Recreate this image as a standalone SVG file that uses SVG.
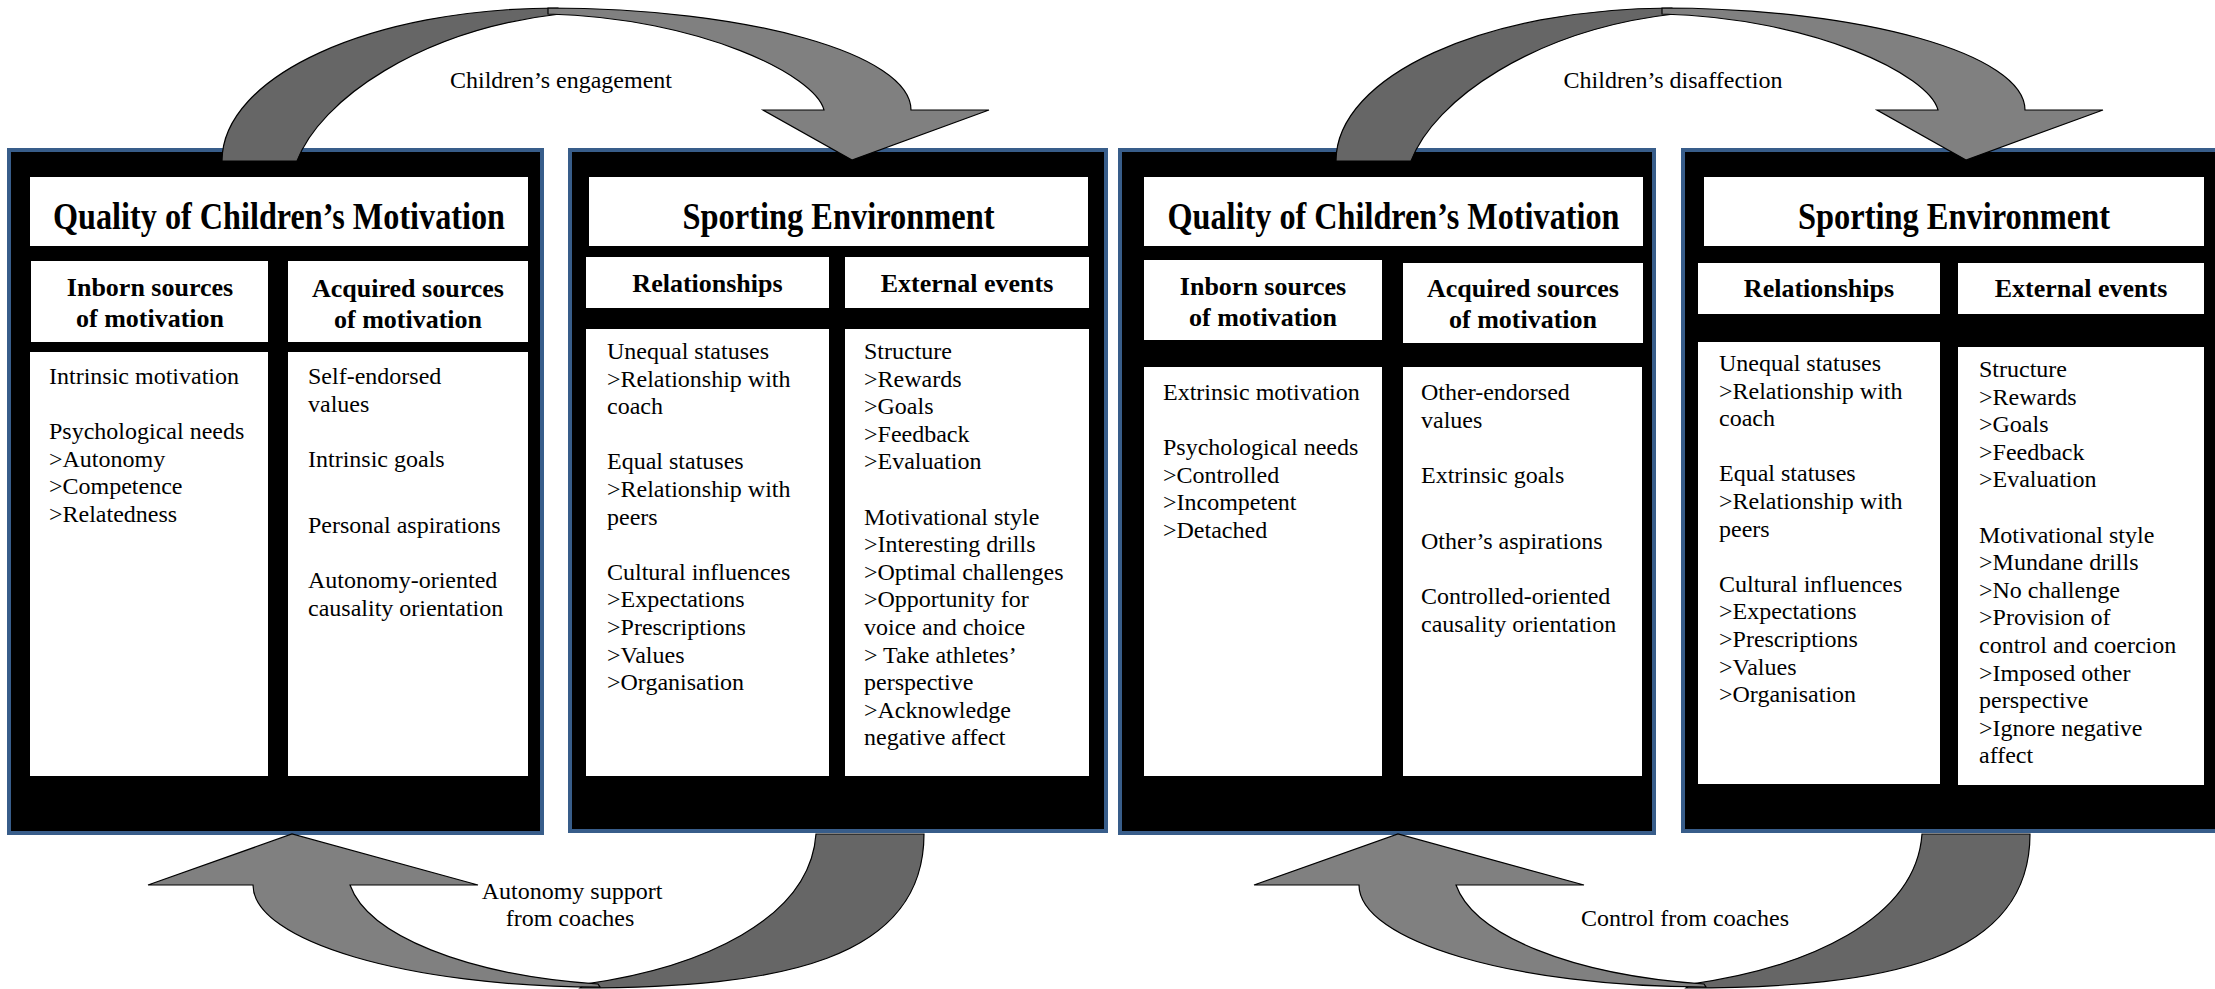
<svg xmlns="http://www.w3.org/2000/svg" width="2215" height="989" viewBox="0 0 2215 989">
<defs>
<style>
.box{fill:#000;stroke:#385D8A;stroke-width:4}
.wb{fill:#fff}
text{font-family:'Liberation Serif','Times New Roman',serif;fill:#000}
.title{font-weight:bold;font-size:38px;text-anchor:middle}
.sub{font-weight:bold;font-size:26px;text-anchor:middle}
.body{font-size:24px}
.lbl{font-size:24px;text-anchor:middle}
.dark{fill:#666666;stroke:#000;stroke-width:1.2}
.light{fill:#808080;stroke:#000;stroke-width:1.2}
</style>
<g id="topArrow">
<path class="dark" d="M222,161 C222,76 371,8 558,8 L560,14 C420,30 320,100 297,161 Z"/>
<path class="light" d="M548,8 C748,8 911,54 911,110 L989,110 L852,160 L763,110 L824,110 C815,75 700,18 548,14 Z"/>
</g>
<g id="bottomArrow">
<path class="dark" d="M816,834 L924,834 C924,960 780,988 580,988 L585,984 C700,968 810,920 816,834 Z"/>
<path class="light" d="M253,885 L148,885 L292,834 L478,885 L350,885 C368,935 465,975 598,984 L600,987 C408,987 253,941 253,885 Z"/>
</g>
</defs>

<g id="node-motivation-positive">
<rect class="box" x="9" y="150" width="533" height="683"/>
<rect class="wb" x="30" y="177" width="498" height="69"/>
<text class="title" x="279" y="229" textLength="452" lengthAdjust="spacingAndGlyphs">Quality of Children’s Motivation</text>
<rect class="wb" x="31" y="261" width="237" height="81"/>
<text class="sub" x="150" y="296">Inborn sources</text>
<text class="sub" x="150" y="327">of motivation</text>
<rect class="wb" x="288" y="261" width="240" height="81"/>
<text class="sub" x="408" y="297">Acquired sources</text>
<text class="sub" x="408" y="328">of motivation</text>
<rect class="wb" x="30" y="352" width="238" height="424"/>
<text class="body" x="49" y="384">Intrinsic motivation</text>
<text class="body" x="49" y="439">Psychological needs</text>
<text class="body" x="49" y="466.6">&gt;Autonomy</text>
<text class="body" x="49" y="494.2">&gt;Competence</text>
<text class="body" x="49" y="521.8">&gt;Relatedness</text>
<rect class="wb" x="288" y="352" width="240" height="424"/>
<text class="body" x="308" y="384">Self-endorsed</text>
<text class="body" x="308" y="411.6">values</text>
<text class="body" x="308" y="466.8">Intrinsic goals</text>
<text class="body" x="308" y="533">Personal aspirations</text>
<text class="body" x="308" y="588">Autonomy-oriented</text>
<text class="body" x="308" y="616">causality orientation</text>
</g>

<g id="node-environment-positive">
<rect class="box" x="570" y="150" width="536" height="681"/>
<rect class="wb" x="589" y="177" width="499" height="69"/>
<text class="title" x="838.5" y="229" textLength="312" lengthAdjust="spacingAndGlyphs">Sporting Environment</text>
<rect class="wb" x="586" y="257" width="243" height="51"/>
<text class="sub" x="707.5" y="292">Relationships</text>
<rect class="wb" x="845" y="257" width="244" height="51"/>
<text class="sub" x="967" y="292">External events</text>
<rect class="wb" x="586" y="329" width="243" height="447"/>
<text class="body" x="607" y="359">Unequal statuses</text>
<text class="body" x="607" y="386.6">&gt;Relationship with</text>
<text class="body" x="607" y="414.2">coach</text>
<text class="body" x="607" y="469.4">Equal statuses</text>
<text class="body" x="607" y="497">&gt;Relationship with</text>
<text class="body" x="607" y="524.6">peers</text>
<text class="body" x="607" y="579.8">Cultural influences</text>
<text class="body" x="607" y="607.4">&gt;Expectations</text>
<text class="body" x="607" y="635">&gt;Prescriptions</text>
<text class="body" x="607" y="662.6">&gt;Values</text>
<text class="body" x="607" y="690.2">&gt;Organisation</text>
<rect class="wb" x="845" y="329" width="244" height="447"/>
<text class="body" x="864" y="359">Structure</text>
<text class="body" x="864" y="386.6">&gt;Rewards</text>
<text class="body" x="864" y="414.2">&gt;Goals</text>
<text class="body" x="864" y="441.8">&gt;Feedback</text>
<text class="body" x="864" y="469.4">&gt;Evaluation</text>
<text class="body" x="864" y="524.6">Motivational style</text>
<text class="body" x="864" y="552.2">&gt;Interesting drills</text>
<text class="body" x="864" y="579.8">&gt;Optimal challenges</text>
<text class="body" x="864" y="607.4">&gt;Opportunity for</text>
<text class="body" x="864" y="635">voice and choice</text>
<text class="body" x="864" y="662.6">&gt; Take athletes’</text>
<text class="body" x="864" y="690.2">perspective</text>
<text class="body" x="864" y="717.8">&gt;Acknowledge</text>
<text class="body" x="864" y="745.4">negative affect</text>
</g>

<g id="node-motivation-negative">
<rect class="box" x="1120" y="150" width="534" height="683"/>
<rect class="wb" x="1144" y="177" width="499" height="69"/>
<text class="title" x="1393.5" y="229" textLength="452" lengthAdjust="spacingAndGlyphs">Quality of Children’s Motivation</text>
<rect class="wb" x="1144" y="260" width="238" height="80"/>
<text class="sub" x="1263" y="295">Inborn sources</text>
<text class="sub" x="1263" y="326">of motivation</text>
<rect class="wb" x="1403" y="263" width="240" height="80"/>
<text class="sub" x="1523" y="297">Acquired sources</text>
<text class="sub" x="1523" y="328">of motivation</text>
<rect class="wb" x="1144" y="367" width="238" height="409"/>
<text class="body" x="1163" y="400">Extrinsic motivation</text>
<text class="body" x="1163" y="455.2">Psychological needs</text>
<text class="body" x="1163" y="482.8">&gt;Controlled</text>
<text class="body" x="1163" y="510.4">&gt;Incompetent</text>
<text class="body" x="1163" y="538">&gt;Detached</text>
<rect class="wb" x="1403" y="367" width="239" height="409"/>
<text class="body" x="1421" y="400">Other-endorsed</text>
<text class="body" x="1421" y="427.6">values</text>
<text class="body" x="1421" y="482.8">Extrinsic goals</text>
<text class="body" x="1421" y="549">Other’s aspirations</text>
<text class="body" x="1421" y="604">Controlled-oriented</text>
<text class="body" x="1421" y="632">causality orientation</text>
</g>

<g id="node-environment-negative">
<rect class="box" x="1683" y="150" width="540" height="681"/>
<rect class="wb" x="1704" y="177" width="500" height="69"/>
<text class="title" x="1954" y="229" textLength="312" lengthAdjust="spacingAndGlyphs">Sporting Environment</text>
<rect class="wb" x="1698" y="263" width="242" height="51"/>
<text class="sub" x="1819" y="297">Relationships</text>
<rect class="wb" x="1958" y="263" width="246" height="51"/>
<text class="sub" x="2081" y="297">External events</text>
<rect class="wb" x="1698" y="342" width="242" height="442"/>
<text class="body" x="1719" y="371">Unequal statuses</text>
<text class="body" x="1719" y="398.6">&gt;Relationship with</text>
<text class="body" x="1719" y="426.2">coach</text>
<text class="body" x="1719" y="481.4">Equal statuses</text>
<text class="body" x="1719" y="509">&gt;Relationship with</text>
<text class="body" x="1719" y="536.6">peers</text>
<text class="body" x="1719" y="591.8">Cultural influences</text>
<text class="body" x="1719" y="619.4">&gt;Expectations</text>
<text class="body" x="1719" y="647">&gt;Prescriptions</text>
<text class="body" x="1719" y="674.6">&gt;Values</text>
<text class="body" x="1719" y="702.2">&gt;Organisation</text>
<rect class="wb" x="1958" y="347" width="246" height="438"/>
<text class="body" x="1979" y="377">Structure</text>
<text class="body" x="1979" y="404.6">&gt;Rewards</text>
<text class="body" x="1979" y="432.2">&gt;Goals</text>
<text class="body" x="1979" y="459.8">&gt;Feedback</text>
<text class="body" x="1979" y="487.4">&gt;Evaluation</text>
<text class="body" x="1979" y="542.6">Motivational style</text>
<text class="body" x="1979" y="570.2">&gt;Mundane drills</text>
<text class="body" x="1979" y="597.8">&gt;No challenge</text>
<text class="body" x="1979" y="625.4">&gt;Provision of</text>
<text class="body" x="1979" y="653">control and coercion</text>
<text class="body" x="1979" y="680.6">&gt;Imposed other</text>
<text class="body" x="1979" y="708.2">perspective</text>
<text class="body" x="1979" y="735.8">&gt;Ignore negative</text>
<text class="body" x="1979" y="763.4">affect</text>
</g>

<g id="connectors">
<use href="#topArrow"/>
<use href="#topArrow" transform="translate(1114,0)"/>
<use href="#bottomArrow"/>
<use href="#bottomArrow" transform="translate(1106,0)"/>
<text class="lbl" x="561" y="88">Children’s engagement</text>
<text class="lbl" x="1673" y="88">Children’s disaffection</text>
<text class="lbl" x="572" y="899">Autonomy support</text>
<text class="lbl" x="570" y="926">from coaches</text>
<text class="lbl" x="1685" y="926">Control from coaches</text>
</g>
</svg>
